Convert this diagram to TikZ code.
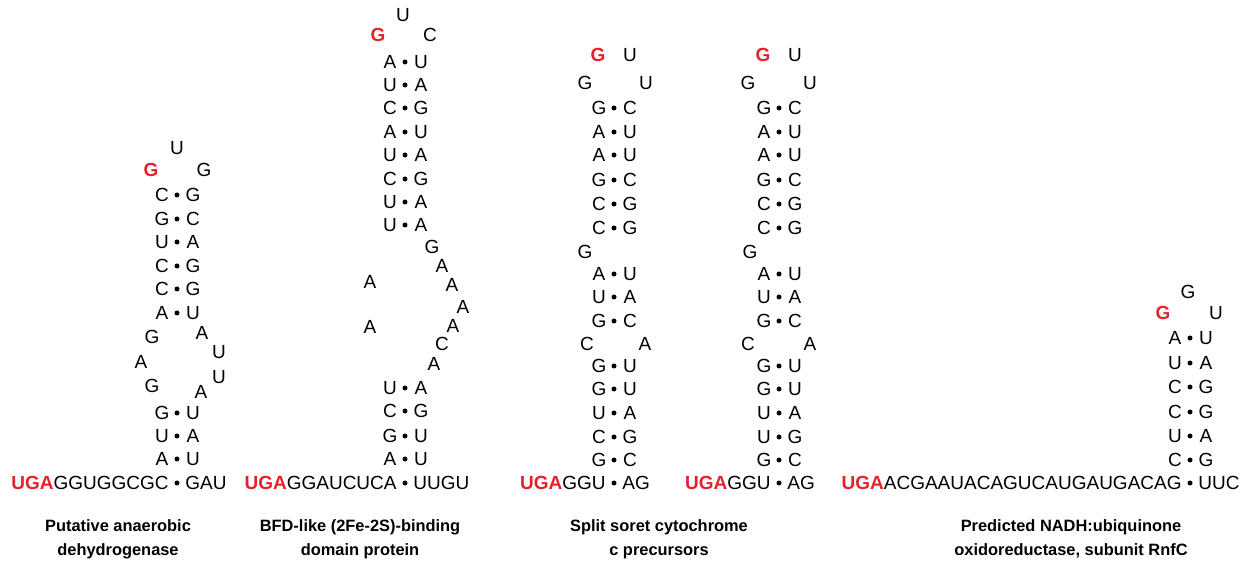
\documentclass[tikz,border=0pt]{standalone}
\usepackage{fontspec}
\usepackage{xcolor}
\usepackage{tikz}
\setmainfont{Liberation Sans}
\definecolor{rnared}{RGB}{232,32,42}
\newcommand{\stopcodon}{\textcolor{rnared}{\bfseries UGA}}

\begin{document}
\begin{tikzpicture}[x=0.5pt,y=0.5pt,yscale=-1,xscale=1,
  nt/.style={inner sep=0pt,font=\fontsize{9.5}{11}\selectfont},
  ntred/.style={nt,text=rnared,font=\fontsize{9.5}{11}\selectfont\bfseries},
  bpdot/.style={circle,fill=black,inner sep=0pt,minimum size=2.5pt},
  caption/.style={inner sep=0pt,align=center,font=\fontsize{8.2}{12}\selectfont\bfseries}]
%set diagram left start at 0, width 1246 and height 565
\useasboundingbox (0,0) rectangle (1246,565);

%Hairpin: anaerobic dehydrogenase
\node[nt] (a-top) at (177,148) {U};
\node[ntred] (a-gl) at (151,170) {G};
\node[nt] (a-gr) at (204,170) {G};
\foreach \y/\l/\r [count=\i] in {195/C/G,219/G/C,242/U/A,266/C/G,289/C/G,313/A/U,413/G/U,436/U/A,459/A/U} {
  \node[nt] (a-l\i) at (162,\y) {\l};
  \node[bpdot] (a-d\i) at (177,\y) {};
  \node[nt] (a-r\i) at (193,\y) {\r};
}
\node[nt] (a-i1) at (152,337) {G};
\node[nt] (a-i2) at (141,362) {A};
\node[nt] (a-i3) at (152,386) {G};
\node[nt] (a-i4) at (202,333) {A};
\node[nt] (a-i5) at (219,352) {U};
\node[nt] (a-i6) at (219,377) {U};
\node[nt] (a-i7) at (201,392) {A};
\node[nt,anchor=east] (a-5p) at (169,483) {\stopcodon GGUGGCGC};
\node[bpdot] (a-d0) at (177,483) {};
\node[nt,anchor=west] (a-3p) at (185,483) {GAU};

%Hairpin: BFD-like binding domain protein
\node[nt] (b-top) at (403,15) {U};
\node[ntred] (b-gl) at (378,35) {G};
\node[nt] (b-cr) at (430,35) {C};
\foreach \y/\l/\r [count=\i] in {62/A/U,85/U/A,108/C/G,132/A/U,155/U/A,179/C/G,202/U/A,225/U/A,388/U/A,411/C/G,436/G/U,459/A/U} {
  \node[nt] (b-l\i) at (390,\y) {\l};
  \node[bpdot] (b-d\i) at (405,\y) {};
  \node[nt] (b-r\i) at (421,\y) {\r};
}
\node[nt] (b-i1) at (432,247) {G};
\node[nt] (b-i2) at (442,266) {A};
\node[nt] (b-i3) at (452,285) {A};
\node[nt] (b-i4) at (463,307) {A};
\node[nt] (b-i5) at (453,326) {A};
\node[nt] (b-i6) at (442,344) {C};
\node[nt] (b-i7) at (434,364) {A};
\node[nt] (b-i8) at (370,282) {A};
\node[nt] (b-i9) at (370,327) {A};
\node[nt,anchor=east] (b-5p) at (397,483) {\stopcodon GGAUCUCA};
\node[bpdot] (b-d0) at (405,483) {};
\node[nt,anchor=west] (b-3p) at (413,483) {UUGU};

%Hairpin: split soret cytochrome c, first
\node[ntred] (c-gl) at (598,55) {G};
\node[nt] (c-ur) at (630,55) {U};
\node[nt] (c-g2) at (585,83) {G};
\node[nt] (c-u2) at (646,83) {U};
\foreach \y/\l/\r [count=\i] in {108/G/C,132/A/U,155/A/U,180/G/C,204/C/G,228/C/G,274/A/U,297/U/A,321/G/C,366/G/U,389/G/U,413/U/A,437/C/G,460/G/C} {
  \node[nt] (c-l\i) at (599,\y) {\l};
  \node[bpdot] (c-d\i) at (614,\y) {};
  \node[nt] (c-r\i) at (630,\y) {\r};
}
\node[nt] (c-b1) at (585,252) {G};
\node[nt] (c-b2) at (587,344) {C};
\node[nt] (c-b3) at (645,344) {A};
\node[nt,anchor=east] (c-5p) at (606,483) {\stopcodon GGU};
\node[bpdot] (c-d0) at (614,483) {};
\node[nt,anchor=west] (c-3p) at (622,483) {AG};

%Hairpin: split soret cytochrome c, second
\node[ntred] (d-gl) at (763,55) {G};
\node[nt] (d-ur) at (795,55) {U};
\node[nt] (d-g2) at (748,83) {G};
\node[nt] (d-u2) at (810,83) {U};
\foreach \y/\l/\r [count=\i] in {108/G/C,132/A/U,155/A/U,180/G/C,204/C/G,228/C/G,274/A/U,297/U/A,321/G/C,366/G/U,389/G/U,413/U/A,437/U/G,460/G/C} {
  \node[nt] (d-l\i) at (764,\y) {\l};
  \node[bpdot] (d-d\i) at (779,\y) {};
  \node[nt] (d-r\i) at (795,\y) {\r};
}
\node[nt] (d-b1) at (750,252) {G};
\node[nt] (d-b2) at (748,344) {C};
\node[nt] (d-b3) at (810,344) {A};
\node[nt,anchor=east] (d-5p) at (771,483) {\stopcodon GGU};
\node[bpdot] (d-d0) at (779,483) {};
\node[nt,anchor=west] (d-3p) at (787,483) {AG};

%Hairpin: NADH:ubiquinone oxidoreductase RnfC
\node[nt] (e-top) at (1188,292) {G};
\node[ntred] (e-gl) at (1163,313) {G};
\node[nt] (e-ur) at (1216,313) {U};
\foreach \y/\l/\r [count=\i] in {338/A/U,363/U/A,387/C/G,412/C/G,436/U/A,460/C/G} {
  \node[nt] (e-l\i) at (1175,\y) {\l};
  \node[bpdot] (e-d\i) at (1190,\y) {};
  \node[nt] (e-r\i) at (1206,\y) {\r};
}
\node[nt,anchor=east] (e-5p) at (1182,483) {\stopcodon ACGAAUACAGUCAUGAUGACAG};
\node[bpdot] (e-d0) at (1190,483) {};
\node[nt,anchor=west] (e-3p) at (1198,483) {UUC};

% Text Node
\node[caption] (a-cap) at (118,539) {Putative anaerobic\\dehydrogenase};
% Text Node
\node[caption] (b-cap) at (360,539) {BFD-like (2Fe-2S)-binding\\domain protein};
% Text Node
\node[caption] (c-cap) at (659,539) {Split soret cytochrome\\c precursors};
% Text Node
\node[caption] (e-cap) at (1071,539) {Predicted NADH:ubiquinone\\oxidoreductase, subunit RnfC};

\end{tikzpicture}
\end{document}
